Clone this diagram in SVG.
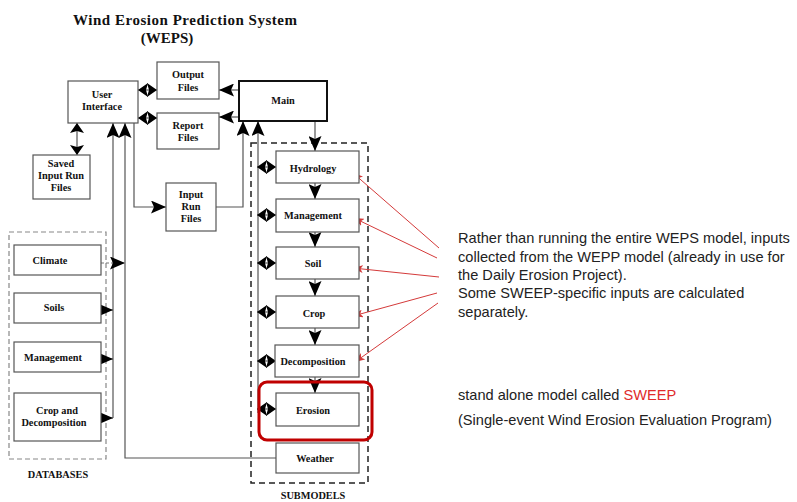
<svg xmlns="http://www.w3.org/2000/svg" width="797" height="502" viewBox="0 0 797 502">
<style>
.bx{fill:#fff;stroke:#555;stroke-width:1.2}
.lb{font-family:"Liberation Serif",serif;font-weight:bold;font-size:10.3px;fill:#111;text-anchor:middle}
.ln{fill:none;stroke:#555;stroke-width:1.2}
.rd{fill:none;stroke:#d43a3a;stroke-width:1}
.tx{font-family:"Liberation Sans",Arial,sans-serif;font-size:14.6px;fill:#222}
</style>
<defs>
<marker id="ah" markerUnits="userSpaceOnUse" viewBox="0 0 15 13" markerWidth="15" markerHeight="13" refX="15" refY="6.5" orient="auto-start-reverse">
<path d="M0,0 L15,6.5 L0,13 L3,6.5 z" fill="#000"/>
</marker>
<marker id="dh" markerUnits="userSpaceOnUse" viewBox="0 0 10 14" markerWidth="10" markerHeight="14" refX="10" refY="7" orient="auto-start-reverse">
<path d="M0,0 L10,7 L0,14 L2,7 z" fill="#000"/>
</marker>
<marker id="ra" markerUnits="userSpaceOnUse" viewBox="0 0 10 8" markerWidth="10" markerHeight="8" refX="10" refY="4" orient="auto">
<path d="M0,0 L10,4 L0,8 L2.5,4 z" fill="#d43a3a"/>
</marker>
</defs>
<rect width="797" height="502" fill="#fff"/>

<g id="title">
<text x="185" y="25" font-family="Liberation Serif,serif" font-weight="bold" font-size="15" text-anchor="middle" textLength="224" fill="#111">Wind Erosion Prediction System</text>
<text x="167" y="43" font-family="Liberation Serif,serif" font-weight="bold" font-size="15" text-anchor="middle" fill="#111">(WEPS)</text>
</g>

<g id="databases-group">
<rect x="9" y="232" width="97" height="227" fill="none" stroke="#888" stroke-width="1.2" stroke-dasharray="5,3"/>
<text class="lb" x="58" y="478" font-weight="normal">DATABASES</text>
</g>
<g id="submodels-group">
<rect x="251" y="143" width="117" height="340" fill="none" stroke="#222" stroke-width="1.5" stroke-dasharray="6,4"/>
<text class="lb" x="313" y="499" font-weight="normal">SUBMODELS</text>
</g>

<g id="connectors">
<line class="ln" x1="138" y1="90" x2="157" y2="90" marker-start="url(#dh)" marker-end="url(#dh)"/>
<line class="ln" x1="138" y1="118" x2="157" y2="118" marker-start="url(#dh)" marker-end="url(#dh)"/>
<line class="ln" x1="239" y1="90" x2="219" y2="90" marker-end="url(#ah)"/>
<line class="ln" x1="239" y1="117" x2="219" y2="117" marker-end="url(#ah)"/>
<line class="ln" x1="77" y1="123" x2="77" y2="155" marker-start="url(#dh)" marker-end="url(#dh)"/>
<polyline class="ln" points="134,123 134,207 166,207" marker-end="url(#ah)"/>
<polyline class="ln" points="216,207 243,207 243,121" marker-end="url(#ah)"/>
<polyline class="ln" points="258,413 258,121" marker-end="url(#ah)"/>
<line class="ln" x1="315" y1="121" x2="315" y2="151" marker-end="url(#ah)"/>
<line class="ln" x1="315" y1="183" x2="315" y2="199" marker-end="url(#ah)"/>
<line class="ln" x1="315" y1="232" x2="315" y2="247" marker-end="url(#ah)"/>
<line class="ln" x1="315" y1="279" x2="315" y2="296" marker-end="url(#ah)"/>
<line class="ln" x1="315" y1="328" x2="315" y2="345" marker-end="url(#ah)"/>
<line class="ln" x1="315" y1="377" x2="315" y2="393" marker-end="url(#ah)"/>
<line class="ln" x1="257" y1="167" x2="276" y2="167" marker-start="url(#dh)" marker-end="url(#dh)"/>
<line class="ln" x1="257" y1="215" x2="276" y2="215" marker-start="url(#dh)" marker-end="url(#dh)"/>
<line class="ln" x1="257" y1="263" x2="276" y2="263" marker-start="url(#dh)" marker-end="url(#dh)"/>
<line class="ln" x1="257" y1="312" x2="276" y2="312" marker-start="url(#dh)" marker-end="url(#dh)"/>
<line class="ln" x1="257" y1="361" x2="276" y2="361" marker-start="url(#dh)" marker-end="url(#dh)"/>
<line class="ln" x1="257" y1="409" x2="276" y2="409" marker-start="url(#dh)" marker-end="url(#dh)"/>
<line class="ln" x1="113" y1="418" x2="113" y2="123" marker-end="url(#ah)"/>
<line class="ln" x1="101" y1="310" x2="113" y2="310" marker-end="url(#ah)"/>
<line class="ln" x1="101" y1="359" x2="113" y2="359" marker-end="url(#ah)"/>
<line class="ln" x1="101" y1="418" x2="113" y2="418" marker-end="url(#ah)"/>
<polyline class="ln" points="276,458 125,458 125,123" marker-end="url(#ah)"/>
<line x1="101" y1="263" x2="125" y2="263" stroke="#777" stroke-width="1" stroke-dasharray="3,2" marker-end="url(#ah)"/>
<line class="rd" x1="439" y1="248" x2="353" y2="173" marker-end="url(#ra)"/>
<line class="rd" x1="437" y1="258" x2="354" y2="218" marker-end="url(#ra)"/>
<line class="rd" x1="439" y1="277" x2="353" y2="268" marker-end="url(#ra)"/>
<line class="rd" x1="437" y1="293" x2="353" y2="316" marker-end="url(#ra)"/>
<line class="rd" x1="438" y1="303" x2="355" y2="362" marker-end="url(#ra)"/>
</g>

<g id="user-interface"><rect class="bx" x="68" y="81" width="70" height="42"/><text class="lb" x="102" y="98">User</text><text class="lb" x="102" y="110">Interface</text></g>
<g id="output-files"><rect class="bx" x="157" y="62" width="62" height="37"/><text class="lb" x="188" y="78">Output</text><text class="lb" x="188" y="91">Files</text></g>
<g id="report-files"><rect class="bx" x="157" y="113" width="62" height="36"/><text class="lb" x="188" y="129">Report</text><text class="lb" x="188" y="141">Files</text></g>
<g id="main"><rect x="239" y="81" width="88" height="40" fill="#fff" stroke="#111" stroke-width="2"/><text class="lb" x="283" y="104">Main</text></g>
<g id="saved-input-run-files"><rect class="bx" x="33" y="155" width="57" height="44"/><text class="lb" x="61" y="167">Saved</text><text class="lb" x="61" y="179">Input Run</text><text class="lb" x="61" y="191">Files</text></g>
<g id="input-run-files"><rect class="bx" x="166" y="183" width="50" height="48"/><text class="lb" x="191" y="198">Input</text><text class="lb" x="191" y="210">Run</text><text class="lb" x="191" y="222">Files</text></g>

<g id="climate"><rect class="bx" x="14" y="245" width="87" height="30"/><text class="lb" x="50" y="264">Climate</text></g>
<g id="soils"><rect class="bx" x="14" y="293" width="87" height="30"/><text class="lb" x="54" y="311">Soils</text></g>
<g id="management-db"><rect class="bx" x="14" y="342" width="87" height="30"/><text class="lb" x="53" y="361">Management</text></g>
<g id="crop-decomposition-db"><rect class="bx" x="14" y="393" width="87" height="48"/><text class="lb" x="57" y="414">Crop and</text><text class="lb" x="54" y="426">Decomposition</text></g>

<g id="hydrology"><rect class="bx" x="276" y="151" width="83" height="32"/><text class="lb" x="313" y="172">Hydrology</text></g>
<g id="management"><rect class="bx" x="276" y="199" width="83" height="33"/><text class="lb" x="313" y="219">Management</text></g>
<g id="soil"><rect class="bx" x="276" y="247" width="83" height="32"/><text class="lb" x="313" y="267">Soil</text></g>
<g id="crop"><rect class="bx" x="276" y="296" width="83" height="32"/><text class="lb" x="314" y="317">Crop</text></g>
<g id="decomposition"><rect class="bx" x="275" y="345" width="84" height="32"/><text class="lb" x="313" y="365">Decomposition</text></g>
<g id="erosion"><rect class="bx" x="276" y="393" width="83" height="33"/><text class="lb" x="313" y="414">Erosion</text></g>
<g id="weather"><rect class="bx" x="276" y="443" width="83" height="30"/><text class="lb" x="315" y="462">Weather</text></g>
<g id="sweep-highlight"><rect x="259" y="382" width="113" height="58" rx="8" fill="none" stroke="#c00000" stroke-width="3"/></g>

<g id="annotation">
<text class="tx" x="458" y="243">Rather than running the entire WEPS model, inputs</text>
<text class="tx" x="458" y="262">collected from the WEPP model (already in use for</text>
<text class="tx" x="458" y="280">the Daily Erosion Project).</text>
<text class="tx" x="458" y="298">Some SWEEP-specific inputs are calculated</text>
<text class="tx" x="458" y="317">separately.</text>
<text class="tx" x="458" y="400">stand alone model called <tspan fill="#e02b2b">SWEEP</tspan></text>
<text class="tx" x="458" y="425">(Single-event Wind Erosion Evaluation Program)</text>
</g>
</svg>
